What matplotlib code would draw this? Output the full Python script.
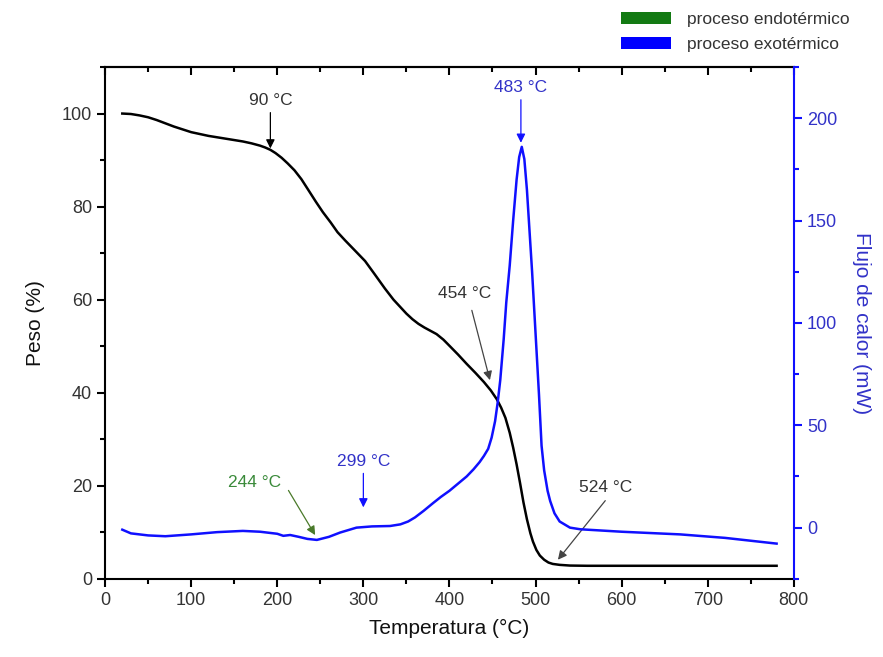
import matplotlib
matplotlib.use("Agg")
import matplotlib.pyplot as plt
from matplotlib.patches import Patch
from matplotlib.ticker import MultipleLocator

plt.rcParams["font.family"] = ["Liberation Sans", "DejaVu Sans"]

# TGA curve (weight %, left axis)
tga_temp = [20, 30, 40, 50, 60, 70, 80, 90, 100, 110, 120, 130, 140, 150, 160,
            170, 180, 186, 192, 198, 205, 212, 220, 228, 236, 245, 253, 262,
            270, 279, 290, 302, 313, 325, 335, 343, 350, 357, 364, 371, 378,
            385, 393, 401, 410, 420, 430, 440, 448, 455, 460, 465, 470, 474,
            478, 482, 486, 490, 494, 497, 501, 505, 510, 515, 520, 528, 540,
            560, 600, 700, 780]
tga_peso = [100.0, 99.9, 99.6, 99.2, 98.6, 97.9, 97.2, 96.6, 96.0, 95.6, 95.2,
            94.9, 94.6, 94.3, 94.0, 93.6, 93.1, 92.7, 92.2, 91.5, 90.5, 89.3,
            87.8, 85.9, 83.6, 81.0, 78.8, 76.6, 74.5, 72.7, 70.6, 68.3, 65.5,
            62.4, 60.0, 58.4, 57.0, 55.8, 54.8, 54.0, 53.3, 52.6, 51.4, 49.9,
            48.2, 46.2, 44.3, 42.3, 40.5, 38.6, 36.8, 34.6, 31.4, 28.2, 24.6,
            20.6, 16.4, 12.8, 9.8, 8.0, 6.2, 5.0, 4.1, 3.5, 3.2, 3.0, 2.85,
            2.8, 2.8, 2.8, 2.8]

# DSC curve (heat flow mW, right axis)
dsc_temp = [20, 30, 50, 70, 100, 130, 160, 180, 200, 207, 215, 225, 235, 246,
            260, 273, 292, 310, 331, 343, 352, 360, 370, 381, 390, 400, 410,
            420, 428, 435, 440, 445, 449, 453, 456, 459, 463, 466, 470, 474,
            478, 481, 484, 487, 490, 493, 496, 500, 504, 507, 510, 514, 517,
            522, 528, 540, 552, 600, 668, 720, 780]
dsc_flujo = [-1, -2.8, -3.8, -4.2, -3.3, -2.2, -1.6, -2, -3, -4, -3.6, -4.5,
             -5.5, -6, -4.5, -2.4, 0, 0.6, 0.8, 1.6, 3.0, 5.0, 8.2, 12, 15,
             18, 21.5, 25, 28.5, 32, 35, 38.5, 44, 52, 61, 72, 92, 110, 128,
             150, 170, 181, 186, 180, 165, 145, 125, 95, 65, 40, 28, 18, 13,
             7, 3, 0, -0.8, -2, -3.3, -5, -7.8]

BLUE = "#1010ff"
BLUE_TXT = "#3232c8"
GREEN_TXT = "#3a8a3a"
GRAY = "#333333"

fig = plt.figure(figsize=(8.83, 6.57), dpi=100)
ax = fig.add_axes([0.119, 0.119, 0.780, 0.779])
ax2 = ax.twinx()

ax.plot(tga_temp, tga_peso, color="black", lw=1.8)
ax2.plot(dsc_temp, dsc_flujo, color=BLUE, lw=1.8)

ax.set_xlim(0, 800)
ax.set_ylim(0, 110)
ax2.set_ylim(-25, 225)

ax.xaxis.set_major_locator(MultipleLocator(100))
ax.xaxis.set_minor_locator(MultipleLocator(50))
ax.yaxis.set_major_locator(MultipleLocator(20))
ax.yaxis.set_minor_locator(MultipleLocator(10))
ax2.yaxis.set_major_locator(MultipleLocator(50))
ax2.yaxis.set_minor_locator(MultipleLocator(25))

ax.tick_params(which="both", direction="out", width=1.5, labelsize=13,
               labelcolor=GRAY, right=False, top=False)
ax.tick_params(which="major", length=6)
ax.tick_params(which="minor", length=3.5)
ax2.tick_params(which="both", direction="out", width=1.5, colors=BLUE,
                labelsize=13, labelcolor=BLUE_TXT)
ax2.tick_params(which="major", length=6)
ax2.tick_params(which="minor", length=3.5)

# top axis ticks pointing inward
top = ax.secondary_xaxis("top")
top.xaxis.set_major_locator(MultipleLocator(100))
top.xaxis.set_minor_locator(MultipleLocator(50))
top.tick_params(which="both", direction="in", width=1.5, labeltop=False)
top.tick_params(which="major", length=6)
top.tick_params(which="minor", length=3.5)
top.spines["top"].set_linewidth(1.5)

for s in ["left", "bottom", "top"]:
    ax.spines[s].set_linewidth(1.5)
ax.spines["right"].set_visible(False)
ax2.spines["left"].set_visible(False)
ax2.spines["top"].set_visible(False)
ax2.spines["bottom"].set_visible(False)
ax2.spines["right"].set_color(BLUE)
ax2.spines["right"].set_linewidth(1.5)

ax.set_xlabel("Temperatura (°C)", fontsize=15, color="#111111", labelpad=7)
ax.set_ylabel("Peso (%)", fontsize=15, color="#111111", labelpad=12)
ax2.set_ylabel("Flujo de calor (mW)", fontsize=15, color=BLUE_TXT,
               rotation=270, labelpad=24)


def arrow(axis, start, tip, color):
    axis.annotate("", xy=tip, xytext=start,
                  arrowprops=dict(arrowstyle="-|>", color=color, lw=0.9,
                                  mutation_scale=13, shrinkA=0, shrinkB=0))


ax.text(192, 102.8, "90 °C", ha="center", va="center", fontsize=12.5, color=GRAY)
arrow(ax, (192, 100.2), (192, 92.5), "black")

ax2.text(483, 215, "483 °C", ha="center", va="center", fontsize=12.5, color=BLUE_TXT)
arrow(ax2, (483, 209), (483, 188), BLUE)

ax.text(418, 61.4, "454 °C", ha="center", va="center", fontsize=12.5, color=GRAY)
arrow(ax, (426, 57.7), (447, 42.7), "#444444")

ax.text(174, 20.8, "244 °C", ha="center", va="center", fontsize=12.5, color=GREEN_TXT)
arrow(ax, (213, 19), (244, 9.4), "#4a7a2a")

ax2.text(300, 32.3, "299 °C", ha="center", va="center", fontsize=12.5, color=BLUE_TXT)
arrow(ax2, (300, 26.5), (300, 9.9), BLUE)

ax.text(581, 19.7, "524 °C", ha="center", va="center", fontsize=12.5, color=GRAY)
arrow(ax, (581, 16.8), (526, 4.1), "#444444")

handles = [Patch(facecolor="#137a13", label="proceso endotérmico"),
           Patch(facecolor="#0000ff", label="proceso exotérmico")]
fig.legend(handles=handles, loc="upper left", bbox_to_anchor=(0.703, 0.982),
           frameon=False, fontsize=12.5, handlelength=2.9, handleheight=0.65,
           labelspacing=0.6, handletextpad=0.9, borderpad=0, borderaxespad=0,
           labelcolor=GRAY)

fig.savefig("out.png", dpi=100)
